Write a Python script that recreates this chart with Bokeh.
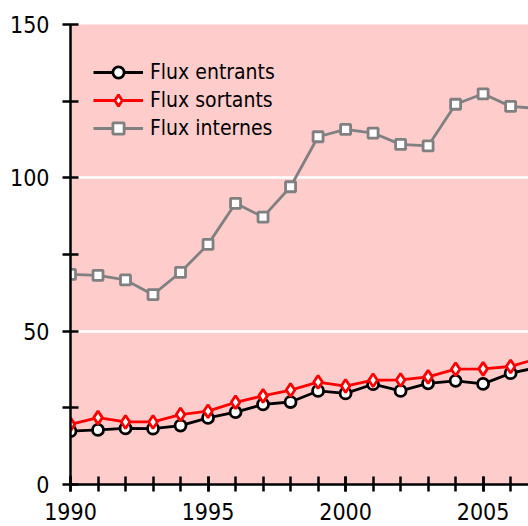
from bokeh.plotting import figure
from bokeh.models import Range1d, FixedTicker, Legend, LegendItem
from bokeh.embed import file_html
from bokeh.resources import INLINE

years = [1990, 1991, 1992, 1993, 1994, 1995, 1996, 1997, 1998, 1999,
         2000, 2001, 2002, 2003, 2004, 2005, 2006, 2007]
flux_entrants = [17.4, 17.8, 18.3, 18.2, 19.2, 21.7, 23.6, 26.1, 26.9, 30.5,
                 29.7, 32.7, 30.5, 33.0, 33.8, 32.8, 36.3, 38.2]
flux_sortants = [19.6, 21.8, 20.4, 20.4, 22.8, 23.9, 26.8, 28.9, 30.8, 33.4,
                 32.1, 34.0, 34.1, 35.1, 37.6, 37.7, 38.5, 41.1]
flux_internes = [68.5, 68.2, 66.7, 61.9, 69.2, 78.3, 91.7, 87.2, 97.1, 113.4,
                 115.8, 114.6, 110.9, 110.4, 124.0, 127.4, 123.3, 122.6]
series_names = ["Flux entrants", "Flux sortants", "Flux internes"]
x_tick_labels = [1990, 1995, 2000, 2005]
y_tick_labels = [0, 50, 100, 150]

FONT = "DejaVu Sans Condensed"

p = figure(width=528, height=526, output_backend="svg", toolbar_location=None,
           x_range=Range1d(1990, 2006.65), y_range=Range1d(0, 150),
           min_border_left=70, min_border_right=0, min_border_top=24, min_border_bottom=42)
p.outline_line_color = None
p.background_fill_color = "#FFCCCC"
p.border_fill_color = "white"

# axes
p.xaxis.ticker = FixedTicker(ticks=x_tick_labels, minor_ticks=years[:17])
p.yaxis.ticker = FixedTicker(ticks=y_tick_labels, minor_ticks=[25, 75, 125])
for ax in (p.xaxis[0], p.yaxis[0]):
    ax.axis_line_width = 2.5
    ax.axis_line_color = "black"
    ax.major_tick_line_width = 2.5
    ax.minor_tick_line_width = 2.5
    ax.major_tick_line_color = "black"
    ax.minor_tick_line_color = "black"
    ax.major_label_text_font = FONT
    ax.major_label_text_font_size = "23px"
    ax.major_label_text_color = "black"
p.yaxis.major_tick_in = 8
p.yaxis.major_tick_out = 8
p.yaxis.minor_tick_in = 8
p.yaxis.minor_tick_out = 8
p.yaxis.major_label_standoff = 13
p.xaxis.major_tick_in = 8
p.xaxis.major_tick_out = 7
p.xaxis.minor_tick_in = 8
p.xaxis.minor_tick_out = 7
p.xaxis.major_label_standoff = 11

p.xgrid.grid_line_color = None
p.ygrid.grid_line_color = "white"
p.ygrid.grid_line_width = 2.5

r1l = p.line(years, flux_entrants, line_color="black", line_width=2.8)
r1m = p.scatter(years, flux_entrants, marker="circle", size=11, fill_color="white",
                line_color="black", line_width=2.8)
r2l = p.line(years, flux_sortants, line_color="#FF0000", line_width=2.8)
r2m = p.scatter(years, flux_sortants, marker="diamond", size=13, fill_color="white",
                line_color="#FF0000", line_width=2.8)
r3l = p.line(years, flux_internes, line_color="#808080", line_width=2.8)
r3m = p.scatter(years, flux_internes, marker="square", size=10, fill_color="white",
                line_color="#808080", line_width=2.8)

legend = Legend(items=[
    LegendItem(label=series_names[0], renderers=[r1l, r1m]),
    LegendItem(label=series_names[1], renderers=[r2l, r2m]),
    LegendItem(label=series_names[2], renderers=[r3l, r3m]),
], location=(23, 342))
legend.margin = 0
legend.padding = 0
legend.spacing = 0
legend.glyph_width = 50
legend.glyph_height = 28
legend.label_height = 28
legend.label_standoff = 7
legend.label_text_font = FONT
legend.label_text_font_size = "21px"
legend.label_text_color = "black"
legend.background_fill_alpha = 0
legend.border_line_color = None
p.add_layout(legend)

open("out.html", "w").write(file_html(p, INLINE))
